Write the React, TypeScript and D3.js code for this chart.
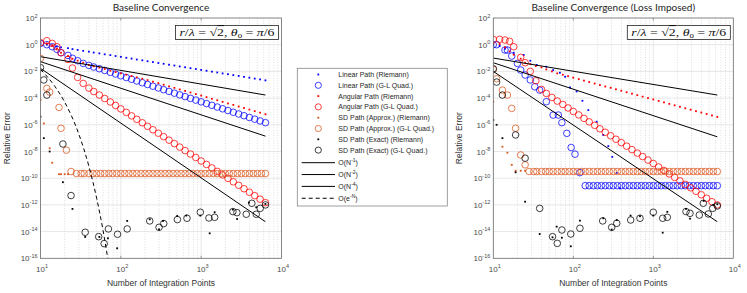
import React from 'react';
import * as d3 from 'd3';

const width = 747;
const height = 293;
const yTop = 18;
const yBot = 258.3;

type Pair = [number, number];

// N grid shared by the regular (quadrature / Riemann) runs
const nGrid = [10, 12, 14, 16, 18, 22, 25, 29, 34, 40, 46, 54, 63, 74, 86, 100, 117, 136, 158, 185, 215, 251, 293, 341, 398,
    464, 541, 631, 736, 858, 1000, 1166, 1359, 1585, 1848, 2154, 2512, 2929, 3415, 3981, 4642, 5412, 6310];

// dense N points of the plateau runs
const plateauN = [28, 32, 35, 40, 45, 50, 56, 63, 71, 79, 89, 100, 112, 126, 141, 158, 178, 200, 224, 251, 282, 316, 355, 398,
    447, 501, 562, 631, 708, 794, 891, 1000, 1122, 1259, 1413, 1585, 1778, 1995, 2239, 2512, 2818, 3162, 3548, 3981, 4467,
    5012, 5623, 6310];

// values are log10(relative error)
// ---- left panel: baseline
const linRiemannL = [0.05, 0.0, -0.07, -0.13, -0.2, -0.26, -0.33, -0.39, -0.46, -0.52, -0.59, -0.65, -0.72, -0.78, -0.85,
    -0.91, -0.98, -1.04, -1.11, -1.17, -1.24, -1.3, -1.37, -1.43, -1.5, -1.56, -1.63, -1.69, -1.76, -1.82, -1.89, -1.95,
    -2.02, -2.08, -2.15, -2.21, -2.28, -2.34, -2.41, -2.47, -2.54, -2.6, -2.67];
const linGLL = [0.1, 0.0, -0.15, -0.35, -0.6, -0.8, -1.02, -1.2, -1.4, -1.55, -1.67, -1.8, -1.93, -2.07, -2.2, -2.33, -2.46,
    -2.59, -2.72, -2.85, -2.98, -3.11, -3.24, -3.37, -3.5, -3.63, -3.76, -3.89, -4.02, -4.15, -4.28, -4.41, -4.54, -4.67,
    -4.8, -4.93, -5.06, -5.19, -5.32, -5.45, -5.58, -5.71, -5.84];
const angRiemannL = [0.2, 0.1, -0.05, -0.3, -0.6, -0.85, -1.05, -1.2, -1.35, -1.52, -1.62, -1.72, -1.82, -1.95, -2.05, -2.15,
    -2.25, -2.35, -2.45, -2.55, -2.65, -2.77, -2.88, -3.0, -3.12, -3.23, -3.35, -3.46, -3.58, -3.7, -3.81, -3.93, -4.05,
    -4.16, -4.28, -4.4, -4.51, -4.63, -4.74, -4.86, -4.98, -5.09, -5.21];
const angGLL = [0.15, 0.3, 0.1, -0.15, -0.6, -1.1, -1.75, -2.45, -2.9, -3.25, -3.51, -3.77, -4.03, -4.29, -4.55, -4.81, -5.07,
    -5.33, -5.59, -5.85, -6.11, -6.37, -6.63, -6.89, -7.15, -7.41, -7.67, -7.93, -8.19, -8.45, -8.71, -8.97, -9.23, -9.49,
    -9.75, -10.01, -10.27, -10.53, -10.79, -11.05, -11.31, -11.57, -11.83];
const sdApproxRiemannL: Pair[] = [[10, -4.14], [11, -5.9], [13, -7.76], [14, -8.84], [17, -9.7], [18, -9.7], [20, -9.7], [22, -9.7]];
const sdApproxGLL: Pair[] = [[10, -1.02], [12, -3.27], [13, -3.55], [17, -4.7], [18, -6.26], [21, -7.9], [24, -9.5]];
const sdApproxPlateauL = -9.65;
const sdExactRiemannL: Pair[] = [[10, -5.39], [11, -7.0], [13, -8.0], [19, -10.3], [25, -12.3], [36, -14.4], [54, -14.4],
    [69, -14.5], [90, -15.25], [120, -13.2], [229, -13.08], [299, -13.83], [335, -13.2], [503, -12.83], [652, -12.8],
    [977, -12.8], [1276, -14.13], [1471, -12.55], [2483, -12.35], [2800, -13.06], [3925, -11.83], [4850, -12.18], [6310, -11.93]];
const sdExactGLL: Pair[] = [[10, -1.72], [11, -2.64], [12, -3.77], [19, -7.44], [24, -11.3], [36, -14.05], [53, -14.38],
    [62, -14.9], [70, -13.8], [91, -14.2], [120, -13.8], [229, -13.2], [299, -13.68], [342, -13.4], [506, -13.1], [666, -13.0],
    [977, -12.55], [1250, -12.98], [1471, -12.93], [2483, -12.5], [2786, -12.58], [3640, -12.7], [4275, -11.88], [4850, -12.7],
    [5430, -12.26], [6320, -12.0]];
const expDecay: Pair[] = [[10, -1.85], [15, -3.1], [20, -4.3], [30, -6.7], [40, -9.1], [50, -11.5], [60, -13.9], [70, -16.3]];

// ---- right panel: loss imposed
const linRiemannR: Pair[] = [[10, 0.0], [12, -0.1], [14, -0.3], [18, -0.6], [24, -0.77], [29, -1.2], [35, -1.52], [46, -1.65],
    [56, -1.9], [68, -2.1], [79, -2.4], [91, -3.2], [110, -3.5], [130, -4.2], [154, -4.9], [196, -5.77], [237, -6.76],
    [274, -7.6], [307, -8.4], [349, -9.6], [384, -10.76]];
const linGLR: Pair[] = [[10, 0.0], [11, 0.0], [14, -0.4], [15, -0.4], [17, -0.85], [20, -1.4], [22, -1.9], [25, -2.27],
    [29, -2.64], [33, -3.15], [38, -3.4], [46, -4.27], [56, -5.27], [65, -5.27], [72, -5.84], [83, -6.64], [94, -7.7],
    [105, -8.2], [121, -9.58]];
const linPlateauR = -10.56;
const angRiemannR = [0.1, 0.05, -0.2, -0.5, -0.75, -1.05, -1.35, -1.45, -1.6, -1.7, -1.85, -2.0, -2.15, -2.25, -2.36, -2.47,
    -2.58, -2.69, -2.8, -2.91, -3.02, -3.13, -3.23, -3.34, -3.45, -3.56, -3.67, -3.78, -3.89, -4.0, -4.1, -4.21, -4.32,
    -4.43, -4.54, -4.65, -4.76, -4.87, -4.98, -5.08, -5.19, -5.3, -5.41];
const angGLR = [0.4, 0.4, 0.35, 0.25, -0.15, -0.95, -1.35, -2.0, -2.7, -3.35, -3.65, -3.95, -4.22, -4.48, -4.74, -5.0, -5.26,
    -5.52, -5.78, -6.04, -6.3, -6.56, -6.82, -7.08, -7.34, -7.6, -7.86, -8.12, -8.38, -8.64, -8.9, -9.16, -9.42, -9.68,
    -9.94, -10.2, -10.46, -10.72, -10.98, -11.24, -11.5, -11.76, -12.0];
const sdApproxRiemannR: Pair[] = [[10, -4.27], [13, -7.64], [15, -8.09], [17, -9.0], [19, -9.44], [22, -9.44], [25, -9.44]];
const sdApproxGLR: Pair[] = [[10, -1.85], [11, -2.55], [13, -3.4], [15, -3.77], [17, -4.77], [19, -6.26], [22, -8.26], [25, -9.0]];
const sdApproxPlateauR = -9.5;
const sdExactRiemannR: Pair[] = [[10, -5.64], [11, -6.0], [13, -7.0], [19, -9.56], [25, -11.76], [38, -14.18], [55, -14.43],
    [62, -13.63], [72, -14.46], [93, -15.1], [121, -13.18], [237, -13.0], [302, -13.85], [349, -13.13], [520, -12.8],
    [682, -12.85], [1000, -12.8], [1311, -14.08], [1496, -12.52], [2564, -12.3], [2876, -13.03], [4260, -11.7], [5620, -12.0],
    [6310, -11.95]];
const sdExactGLR: Pair[] = [[10, -1.8], [11, -2.8], [13, -3.77], [19, -6.76], [25, -8.5], [38, -12.26], [55, -14.38],
    [63, -14.88], [72, -13.88], [93, -14.18], [121, -13.75], [233, -13.2], [302, -13.68], [349, -13.38], [522, -13.13],
    [682, -13.0], [1000, -12.55], [1311, -13.0], [1496, -12.93], [2564, -12.5], [2876, -12.63], [3758, -12.76], [4217, -11.88],
    [4870, -12.68], [5528, -12.26], [6310, -12.08]];

// reference slopes: [N, log10 err] end points
const refN = [10, 6310];
const orderN1L = [-0.9, -3.77];
const orderN2L = [-1.27, -6.85];
const orderN4L = [-1.77, -13.26];
const orderN1R = [-1.0, -3.77];
const orderN2R = [-1.35, -6.9];
const orderN4R = [-2.0, -13.26];

const legendLabels = ['Linear Path (Riemann)', 'Linear Path (G-L Quad.)', 'Angular Path (Riemann)', 'Angular Path (G-L Quad.)',
    'SD Path (Approx.) (Riemann)', 'SD Path (Approx.) (G-L Quad.)', 'SD Path (Exact) (Riemann)', 'SD Path (Exact) (G-L Quad.)'];
const legendLines = [['N', '-1'], ['N', '-2'], ['N', '-4'], ['e', '-N']];

const BLUE = '#0000ff';
const RED = '#ff0000';
const ORANGE = '#d95319';
const BLACK = '#000000';
const sans = 'Liberation Sans, Arial, sans-serif';

const onGrid = (vals: number[]): Pair[] => nGrid.map((n, i) => [n, vals[i]] as Pair);
const plateau = (level: number, from: number): Pair[] => plateauN.filter(n => n >= from).map(n => [n, level] as Pair);

interface ISeries {
    pts: Pair[];
    color: string;
    kind: 'dot' | 'circle';
}

interface IPanel {
    x0: number;
    x1: number;
    title: string;
    series: ISeries[];
    refs: number[][];
    dashed?: Pair[];
    id: string;
}

const Panel = ({ x0, x1, title, series, refs, dashed, id }: IPanel) => {
    const x = d3.scaleLog().domain([10, 1e4]).range([x0, x1]);
    const y = d3.scaleLog().domain([1e-16, 1e2]).range([yBot, yTop]);
    const px = (d: Pair) => x(d[0]);
    const py = (d: Pair) => y(Math.pow(10, d[1]));
    const line = d3.line<Pair>().x(px).y(py);
    const yExps = d3.range(2, -17, -2);
    const xExps = [1, 2, 3, 4];
    const minors: number[] = [];
    [1, 2, 3].forEach(k => d3.range(2, 10).forEach(m => minors.push(m * Math.pow(10, k))));
    const clip = `clip-${id}`;
    const boxX = x1 - 106;

    return (
        <g>
            <defs>
                <clipPath id={clip}>
                    <rect x={x0} y={yTop} width={x1 - x0} height={yBot - yTop} />
                </clipPath>
            </defs>
            <rect x={x0} y={yTop} width={x1 - x0} height={yBot - yTop} fill="#fff" />
            {minors.map(v => (
                <line key={'m' + v} x1={x(v)} x2={x(v)} y1={yTop} y2={yBot} stroke="#c8c8c8" strokeWidth={0.6}
                    strokeDasharray="1,1.6" />
            ))}
            {xExps.slice(1, 3).map(e => (
                <line key={'gx' + e} x1={x(Math.pow(10, e))} x2={x(Math.pow(10, e))} y1={yTop} y2={yBot} stroke="#dcdcdc"
                    strokeWidth={0.7} />
            ))}
            {yExps.slice(1, -1).map(e => (
                <line key={'gy' + e} x1={x0} x2={x1} y1={y(Math.pow(10, e))} y2={y(Math.pow(10, e))} stroke="#dcdcdc"
                    strokeWidth={0.7} />
            ))}
            <g clipPath={`url(#${clip})`}>
                {series.map((s, si) => (
                    <g key={si}>
                        {s.pts.map((d, i) => s.kind === 'dot'
                            ? <rect key={i} x={px(d) - 0.9} y={py(d) - 0.9} width={1.8} height={1.8} fill={s.color} />
                            : <circle key={i} cx={px(d)} cy={py(d)} r={3.3} fill="none" stroke={s.color} strokeWidth={0.75} />)}
                    </g>
                ))}
                {refs.map((r, i) => (
                    <path key={'r' + i} d={line(refN.map((n, j) => [n, r[j]] as Pair)) || ''} fill="none" stroke={BLACK}
                        strokeWidth={1} />
                ))}
                {dashed && (
                    <path d={d3.line<Pair>().x(px).y(py).curve(d3.curveMonotoneX)(dashed) || ''} fill="none" stroke={BLACK}
                        strokeWidth={1} strokeDasharray="4,3" />
                )}
            </g>
            <rect x={x0} y={yTop} width={x1 - x0} height={yBot - yTop} fill="none" stroke="#666" strokeWidth={0.8} />
            {xExps.slice(1, 3).map(e => (
                <g key={'tx' + e}>
                    <line x1={x(Math.pow(10, e))} x2={x(Math.pow(10, e))} y1={yBot} y2={yBot - 2.5} stroke="#666" strokeWidth={0.6} />
                    <line x1={x(Math.pow(10, e))} x2={x(Math.pow(10, e))} y1={yTop} y2={yTop + 2.5} stroke="#666" strokeWidth={0.6} />
                </g>
            ))}
            {xExps.map(e => (
                <text key={'lx' + e} x={x(Math.pow(10, e)) + 1.5} y={271.5} textAnchor="middle" fontFamily={sans}
                    fontSize={8} fill="#4a4a4a">
                    10<tspan dy={-3.5} fontSize={5.5}>{e}</tspan>
                </text>
            ))}
            {yExps.map(e => (
                <text key={'ly' + e} x={x0 - 3} y={y(Math.pow(10, e)) + 3} textAnchor="end" fontFamily={sans} fontSize={8}
                    fill="#4a4a4a">
                    10<tspan dy={-3.5} fontSize={5.5}>{e}</tspan>
                </text>
            ))}
            <text x={(x0 + x1) / 2} y={286} textAnchor="middle" fontFamily={sans} fontSize={8.5} fill="#333">
                Number of Integration Points
            </text>
            <text transform={`translate(${x0 - 31},${(yTop + yBot) / 2}) rotate(-90)`} textAnchor="middle" fontFamily={sans}
                fontSize={8.5} fill="#333">
                Relative Error
            </text>
            <text x={(x0 + x1) / 2} y={10.5} textAnchor="middle" fontFamily="Lato, Open Sans, sans-serif" fontSize={10}
                fill="#222">
                {title}
            </text>
            <rect x={boxX} y={25.5} width={103} height={14} fill="#fff" stroke="#222" strokeWidth={0.8} />
            <text x={boxX + 4} y={36} fontFamily="Liberation Serif, DejaVu Serif, serif" fontSize={11} fill="#111"
                textLength={95} lengthAdjust="spacingAndGlyphs">
                <tspan fontStyle="italic">r</tspan>/<tspan fontStyle="italic">λ</tspan> = √<tspan
                    style={{ textDecoration: 'overline' }}>2</tspan>, <tspan fontStyle="italic">θ</tspan><tspan dy={2}
                    fontSize={7}>0</tspan><tspan dy={-2}> = </tspan><tspan fontStyle="italic">π</tspan>/6
            </text>
        </g>
    );
};

const Legend = () => {
    const bx = 297.3;
    const by = 68.3;
    const markerX = 318.3;
    const textX = 338.3;
    const colors = [BLUE, BLUE, RED, RED, ORANGE, ORANGE, BLACK, BLACK];
    const rowY = (i: number) => (i < 8 ? 74.5 + 10.8 * i : 162.7 + 11.85 * (i - 8));
    return (
        <g>
            <rect x={bx} y={by} width={150} height={137.7} fill="#fff" stroke="#888" strokeWidth={0.8} />
            {legendLabels.map((t, i) => (
                <g key={t}>
                    {i % 2 === 0
                        ? <rect x={markerX - 0.9} y={rowY(i) - 0.9} width={1.8} height={1.8} fill={colors[i]} />
                        : <circle cx={markerX} cy={rowY(i)} r={3.1} fill="none" stroke={colors[i]} strokeWidth={0.75} />}
                    <text x={textX} y={rowY(i) + 2.5} fontFamily={sans} fontSize={7} fill="#262626">{t}</text>
                </g>
            ))}
            {legendLines.map((l, j) => (
                <g key={j}>
                    <line x1={301.7} x2={335} y1={rowY(8 + j)} y2={rowY(8 + j)} stroke={BLACK} strokeWidth={1}
                        strokeDasharray={j === 3 ? '4,3' : undefined} />
                    <text x={textX} y={rowY(8 + j) + 2.5} fontFamily={sans} fontSize={7} fill="#262626">
                        O({l[0]}<tspan dy={-3} fontSize={5}>{l[1]}</tspan><tspan dy={3}>)</tspan>
                    </text>
                </g>
            ))}
        </g>
    );
};

export const App = () => {
    const leftSeries: ISeries[] = [
        { pts: onGrid(linRiemannL), color: BLUE, kind: 'dot' },
        { pts: onGrid(linGLL), color: BLUE, kind: 'circle' },
        { pts: onGrid(angRiemannL), color: RED, kind: 'dot' },
        { pts: onGrid(angGLL), color: RED, kind: 'circle' },
        { pts: sdApproxRiemannL, color: ORANGE, kind: 'dot' },
        { pts: sdApproxGLL.concat(plateau(sdApproxPlateauL, 28)), color: ORANGE, kind: 'circle' },
        { pts: sdExactRiemannL, color: BLACK, kind: 'dot' },
        { pts: sdExactGLL, color: BLACK, kind: 'circle' },
    ];
    const rightSeries: ISeries[] = [
        { pts: linRiemannR, color: BLUE, kind: 'dot' },
        { pts: linGLR.concat(plateau(linPlateauR, 141)), color: BLUE, kind: 'circle' },
        { pts: onGrid(angRiemannR), color: RED, kind: 'dot' },
        { pts: onGrid(angGLR), color: RED, kind: 'circle' },
        { pts: sdApproxRiemannR, color: ORANGE, kind: 'dot' },
        { pts: sdApproxGLR.concat(plateau(sdApproxPlateauR, 28)), color: ORANGE, kind: 'circle' },
        { pts: sdExactRiemannR, color: BLACK, kind: 'dot' },
        { pts: sdExactGLR, color: BLACK, kind: 'circle' },
    ];
    return (
        <svg width={width} height={height} style={{ position: 'absolute', left: 0, top: 0, background: '#fff' }}>
            <Panel id="l" x0={40.5} x1={281.5} title="Baseline Convergence" series={leftSeries}
                refs={[orderN1L, orderN2L, orderN4L]} dashed={expDecay} />
            <Panel id="r" x0={493.3} x1={733.3} title="Baseline Convergence (Loss Imposed)" series={rightSeries}
                refs={[orderN1R, orderN2R, orderN4R]} />
            <Legend />
        </svg>
    );
};

export default App;
